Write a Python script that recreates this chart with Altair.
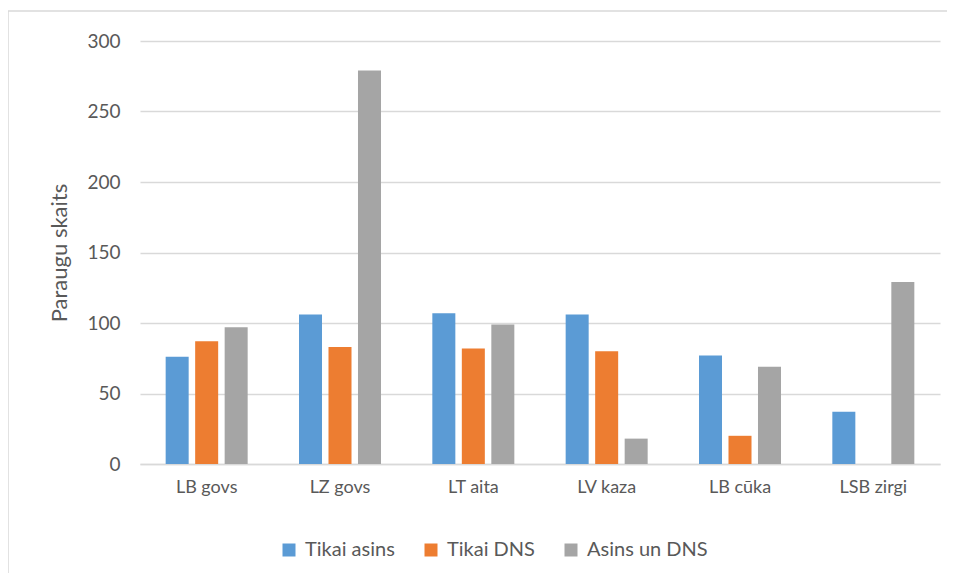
import altair as alt
import pandas as pd

categories = ["LB govs", "LZ govs", "LT aita", "LV kaza", "LB cūka", "LSB zirgi"]
series = ["Tikai asins", "Tikai DNS", "Asins un DNS"]
tikai_asins = [76, 106, 107, 106, 77, 37]
tikai_dns = [87, 83, 82, 80, 20, 0]
asins_un_dns = [97, 279, 99, 18, 69, 129]
colors = ["#5B9BD5", "#ED7D31", "#A5A5A5"]

rows = []
for vals, s in zip([tikai_asins, tikai_dns, asins_un_dns], series):
    for c, v in zip(categories, vals):
        rows.append({"cat": c, "series": s, "value": v})
df = pd.DataFrame(rows)

FONT = "Lato"
TXT = "#595959"

bars = alt.Chart(df).mark_bar().encode(
    x=alt.X("cat:N", sort=categories, title=None,
            scale=alt.Scale(paddingInner=0.385, paddingOuter=0.1925),
            axis=alt.Axis(labelAngle=0, labelFontSize=18, labelColor=TXT, labelFont=FONT,
                          ticks=False, domain=True, domainColor="#D9D9D9", domainWidth=1.5,
                          labelPadding=14)),
    xOffset=alt.XOffset("series:N", sort=series,
                        scale=alt.Scale(paddingInner=0.22, paddingOuter=0)),
    y=alt.Y("value:Q", title="Paraugu skaits",
            scale=alt.Scale(domain=[0, 300], nice=False),
            axis=alt.Axis(values=[0, 50, 100, 150, 200, 250, 300], labelFontSize=19,
                          labelColor=TXT, labelFont=FONT, ticks=False, domain=False,
                          gridColor="#D9D9D9", gridWidth=1.5, labelPadding=20,
                          titleFont=FONT, titleFontSize=22, titleColor=TXT,
                          titleFontWeight="normal", titlePadding=15)),
    color=alt.Color("series:N", sort=series,
                    scale=alt.Scale(domain=series, range=colors),
                    legend=alt.Legend(title=None, orient="none", direction="horizontal",
                                      legendX=139, legendY=499, symbolType="square",
                                      symbolSize=169, symbolStrokeWidth=0,
                                      labelFont=FONT, labelFontSize=20, labelColor=TXT,
                                      columnPadding=26, labelOffset=6)),
)

border = alt.Chart(pd.DataFrame({"a": [0]})).mark_rect(
    fill=None, stroke="#D9D9D9", strokeWidth=1.5
).encode(x=alt.value(-132), x2=alt.value(808), y=alt.value(-30), y2=alt.value(620))

chart = alt.layer(border, bars).properties(
    width=800, height=423,
    padding={"left": 132, "top": 33, "right": 7, "bottom": 109},
    autosize=alt.AutoSizeParams(type="none"),
    background="white",
).configure_view(stroke=None)

chart.save("out.html", embed_options={"renderer": "svg", "actions": False})
